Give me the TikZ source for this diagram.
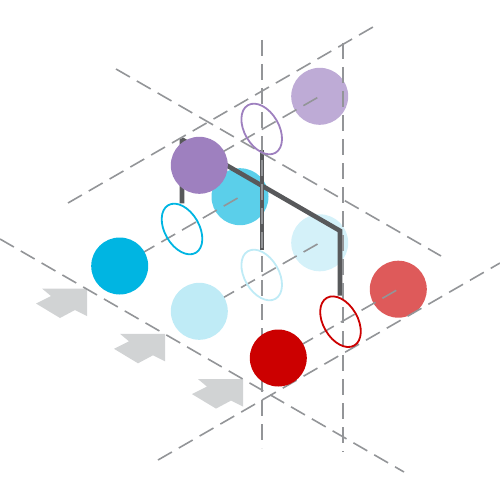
\documentclass[tikz,border=0pt]{standalone}
\usepackage{xcolor}
\usepackage{tikz}
\usetikzlibrary{shapes.geometric,calc}
\definecolor{isopurple}{HTML}{9E80BF}
\definecolor{isopurplelight}{HTML}{BEABD6}
\definecolor{isocyan}{HTML}{00B5E2}
\definecolor{isocyanmid}{HTML}{5BCFEA}
\definecolor{isocyanpale}{HTML}{D4F1F9}
\definecolor{isocyanlight}{HTML}{BFEBF6}
\definecolor{isored}{HTML}{CC0000}
\definecolor{isoredlight}{HTML}{DE5A5A}
\definecolor{wiregray}{HTML}{58595B}
\definecolor{gridgray}{HTML}{939598}
\definecolor{arrowgray}{HTML}{D1D3D4}
\tikzset{
  isoball/.style={
    circle, draw=none, minimum size=57pt, inner sep=0pt
  },
  isoring/.style={
    ellipse, draw, fill=none, line width=1.8pt, inner sep=0pt,
    minimum width=55pt, minimum height=34.5pt, rotate=-60
  },
  isowire/.style={draw=wiregray, line width=4.6pt, line join=miter, miter limit=1.5},
  isogrid/.style={draw=gridgray, line width=1.6pt, dash pattern=on 16pt off 8pt},
  isoarrow/.style={fill=arrowgray, draw=none}
}

\begin{document}
\begin{tikzpicture}[x=1pt,y=-1pt]
  \useasboundingbox (0,0) rectangle (500,500);
  % positions of the front balls
  \coordinate (pu) at (199.3,165.3);
  \coordinate (cy) at (119.7,266);
  \coordinate (lb) at (199.3,311.3);
  \coordinate (rd) at (278.3,358);
  % arrows
  \foreach \k in {0,1,2}
    \fill[isoarrow,shift={(\k*78,\k*45.3)}] (42,288.5) -- (87,288.5) -- (87,316)
      -- (75,310) -- (60,318) -- (36,303.5) -- (51,296) -- cycle;
  % back balls
  \node[isoball,fill=isopurplelight] (lp) at (319.7,96.3) {};
  \node[isoball,fill=isocyanmid] (mc) at (240,196.7) {};
  \node[isoball,fill=isocyanpale] (pc) at (319.7,242.8) {};
  \node[isoball,fill=isoredlight] (lr) at (398.3,289.2) {};
  % wires
  \draw[isowire] (182,203.3) -- (182,139.5) -- (340,230.8) -- (340,295.5);
  \draw[isowire] (262,150) -- (262,249.5);
  % grid
  \draw[isogrid] (262,40) -- (262,448);
  \draw[isogrid] (342.7,43) -- (342.7,452);
  \draw[isogrid] (116,69) -- (441,256);
  \draw[isogrid] (68,203) -- (373,27);
  \draw[isogrid] (0,239) -- (404,472);
  \draw[isogrid] (158,460) -- (500,263);
  \draw[isogrid] (pu) -- (lp.center);
  \draw[isogrid] (cy) -- (mc.center);
  \draw[isogrid] (lb) -- (pc.center);
  \draw[isogrid] (rd) -- (lr.center);
  % rings
  \node[isoring,draw=isopurple] (rp) at (261.7,129) {};
  \node[isoring,draw=isocyan] (rc) at (182,229) {};
  \node[isoring,draw=isocyanlight] (rl) at (261.7,275) {};
  \node[isoring,draw=isored] (rr) at (340.5,321.7) {};
  % front balls
  \node[isoball,fill=isopurple] (bpu) at (pu) {};
  \node[isoball,fill=isocyan] (bcy) at (cy) {};
  \node[isoball,fill=isocyanlight] (blb) at (lb) {};
  \node[isoball,fill=isored] (brd) at (rd) {};
\end{tikzpicture}
\end{document}
